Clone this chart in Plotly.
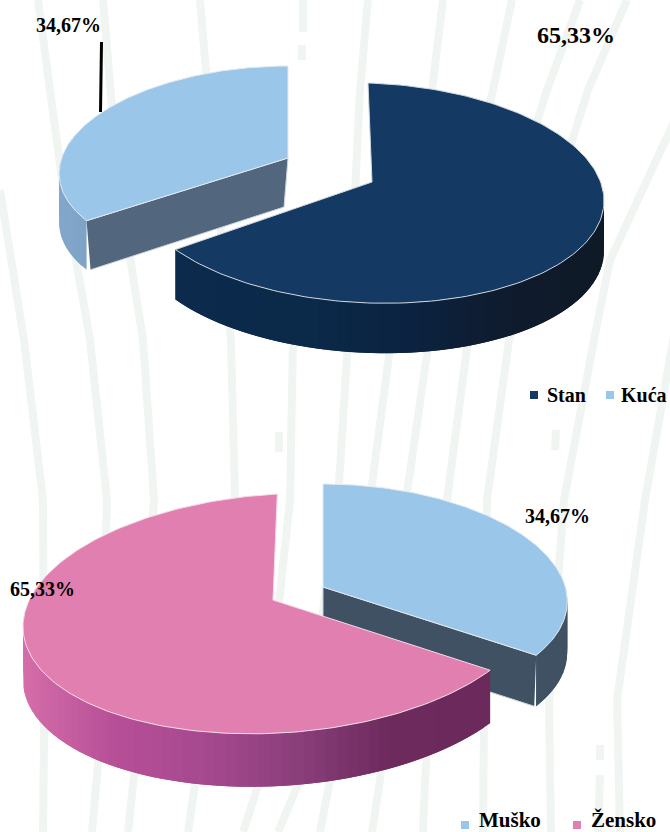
import numpy as np
import plotly.graph_objects as go

# ---- data ----
housing_labels = ["Stan", "Kuća"]
housing_values = [65.33, 34.67]
gender_labels = ["Muško", "Žensko"]
gender_values = [34.67, 65.33]
housing_colors = ["#143a63", "#9ac6e9"]
gender_colors = ["#9ac6e9", "#e27fb1"]

# ---- projection of each slice (ellipse with tilt, apex, depth), in page pixels ----
STAN = dict(cx=368.5, cy=193, rx=235.5, ry=110, s=-0.5, t=7.6, ax=372, ay=182, d=50)
KUCA = dict(cx=269, cy=164.5, rx=209, ry=98.5, s=19, t=0, ax=288, ay=158, d=49)
MUSKO = dict(cx=340.6, cy=593, rx=226, ry=109, s=-17.6, t=0, ax=323, ay=587, d=51)
ZENSKO = dict(cx=279, cy=613.5, rx=256, ry=119.5, s=-1.7, t=-14, ax=273, ay=600, d=53)

BG = "#f0f5f2"
streaks = [
    [(0, 190), (24, 340), (43, 500), (44, 740), (43, 832)],
    [(38, 0), (62, 180), (90, 340), (107, 500), (100, 740), (92, 832)],
    [(103, 0), (118, 180), (143, 340), (154, 500), (140, 720), (128, 832)],
    [(200, 0), (205, 60), (231, 340), (235, 500), (200, 750), (188, 832)],
    [(293, 340), (290, 500), (260, 780), (243, 832)],
    [(368, 0), (360, 90), (348, 340), (338, 500), (300, 780), (278, 832)],
    [(443, 0), (432, 90), (391, 340), (370, 500), (330, 780), (320, 832)],
    [(512, 0), (493, 90), (429, 340), (406, 500), (380, 780), (372, 832)],
    [(580, 0), (547, 90), (468, 340), (447, 500), (425, 780), (423, 832)],
    [(627, 0), (588, 90), (509, 340), (487, 500), (484, 720), (483, 832)],
    [(675, 120), (610, 260), (594, 340), (564, 500), (549, 700), (551, 832)],
    [(675, 330), (645, 500), (617, 700), (620, 832)],
    [(303, 0), (303, 32)], [(302, 45), (302, 60)], [(279, 432), (279, 452)],
    [(556, 430), (555, 450)], [(600, 745), (600, 760)], [(600, 775), (598, 832)],
]


def rim(g, th):
    th = np.radians(th)
    return (g["cx"] + g["rx"] * np.sin(th) + g["s"] * np.cos(th),
            g["cy"] - g["ry"] * np.cos(th) + g["t"] * np.sin(th))


def angles(values):
    cuts = np.cumsum([0] + list(values)) / sum(values) * 360
    return list(zip(cuts[:-1], cuts[1:]))


def mix(stops, f):
    xs = [p for p, _ in stops]
    cs = np.array([[int(c[i:i + 2], 16) for i in (1, 3, 5)] for _, c in stops], float)
    rgb = [np.interp(f, xs, cs[:, i]) for i in range(3)]
    return "rgb(%d,%d,%d)" % tuple(rgb)


fig = go.Figure()


def poly(x, y, color, line=None, width=0.0):
    fig.add_trace(go.Scatter(x=list(x), y=list(y), mode="lines", fill="toself", fillcolor=color,
                             line=dict(color=line or color, width=width), hoverinfo="skip",
                             showlegend=False))


def wall(g, a, b, stops):
    """Side of a slice, as overlapping strips shaded by horizontal position."""
    step = 2.5
    grid = np.arange(a, b, step)
    x0, _ = rim(g, np.append(grid, b))
    lo, hi = x0.min(), x0.max()
    # paint from the inside of the sweep so each strip overlaps its neighbour
    for p in grid:
        q = min(b, p + 2 * step)
        th = np.linspace(p, q, 6)
        xs, ys = rim(g, th)
        poly(np.r_[xs, xs[::-1]], np.r_[ys, ys[::-1] + g["d"]],
             mix(stops, (rim(g, p + step / 2)[0] - lo) / (hi - lo)))


def top(g, a, b, color, edge):
    th = np.linspace(a, b, 181)
    x, y = rim(g, th)
    poly([g["ax"], *x, g["ax"]], [g["ay"], *y, g["ay"]], color, edge, 1)


def cut(g, th, color, dr=0, da=0):
    x, y = rim(g, th)
    d = g["d"]
    poly([x, g["ax"], g["ax"] + da, x + dr], [y, g["ay"], g["ay"] + d, y + d], color, "#c9d3dc", 1)


EDGE = "#e4eaf0"
(h_a, h_b) = angles(housing_values)
(g_a, g_b) = angles(gender_values)

# upper pie: exploded Kuća behind, Stan in front
wall(KUCA, h_b[0], min(h_b[1], 285), [(0, "#83a8cb"), (1, "#7ea3c6")])
cut(KUCA, h_b[0], "#52677d", dr=4, da=-4)
top(KUCA, h_b[0], h_b[1], housing_colors[1], EDGE)
wall(STAN, 85, h_a[1], [(0, "#0b2b4d"), (0.3, "#0b2a4a"), (0.55, "#0c2340"), (0.75, "#0f1c2f"), (1, "#101a27")])
top(STAN, h_a[0], h_a[1], housing_colors[0], "#cfd6dd")

# lower pie: exploded Muško behind, Žensko in front
wall(MUSKO, 80, g_a[1], [(0, "#3f5162"), (1, "#3f5162")])
cut(MUSKO, g_a[1], "#3f5162", dr=-2)
top(MUSKO, g_a[0], g_a[1], gender_colors[0], EDGE)
wall(ZENSKO, g_b[0], 275, [(0, "#d56ea9"), (0.2, "#b74f98"), (0.38, "#a74a90"), (0.58, "#8c3f7c"), (0.78, "#6e2c5e"), (1, "#6c2a5c")])
top(ZENSKO, g_b[0], g_b[1], gender_colors[1], "#f3dde9")

# leader line
fig.add_trace(go.Scatter(x=[101.5, 100.5], y=[42, 112], mode="lines", line=dict(color="#000000", width=3),
                         hoverinfo="skip", showlegend=False))

SERIF = "Liberation Serif"


def legend_entry(x, y, color):
    fig.add_trace(go.Scatter(x=[x], y=[y], mode="markers", marker=dict(symbol="square", size=8, color=color),
                             hoverinfo="skip", showlegend=False))


for x, col in zip([534, 610], housing_colors):
    legend_entry(x, 395, col)
for x, col in zip([465, 577], gender_colors):
    legend_entry(x, 825, col)

texts = [
    (68, 25, f"{housing_values[1]:.2f}%".replace(".", ","), 20, "center"),
    (576, 35, f"{housing_values[0]:.2f}%".replace(".", ","), 24, "center"),
    (557, 516, f"{gender_values[0]:.2f}%".replace(".", ","), 20, "center"),
    (42, 589, f"{gender_values[1]:.2f}%".replace(".", ","), 20, "center"),
    (546, 395, housing_labels[0], 20, "left"),
    (620, 395, housing_labels[1], 20, "left"),
    (478, 820, gender_labels[0], 21, "left"),
    (590, 820, gender_labels[1], 21, "left"),
]
annotations = [dict(x=x, y=y, text=f"<b>{t}</b>", showarrow=False, xanchor=a, yanchor="middle",
                    font=dict(family=SERIF, size=s, color="#000000"), xref="x", yref="y", borderpad=0)
               for x, y, t, s, a in texts]

shapes = [dict(type="path", path="M" + " L".join(f"{x},{y}" for x, y in pts), layer="below",
               line=dict(color=BG, width=8), xref="x", yref="y") for pts in streaks]

fig.update_layout(
    width=670, height=832, margin=dict(l=0, r=0, t=0, b=0), paper_bgcolor="#ffffff", plot_bgcolor="#ffffff",
    xaxis=dict(range=[0, 670], visible=False, fixedrange=True),
    yaxis=dict(range=[832, 0], visible=False, fixedrange=True),
    annotations=annotations, shapes=shapes, showlegend=False,
)
fig.write_html("out.html", config=dict(displayModeBar=False), post_script="document.body.style.margin='0';")
